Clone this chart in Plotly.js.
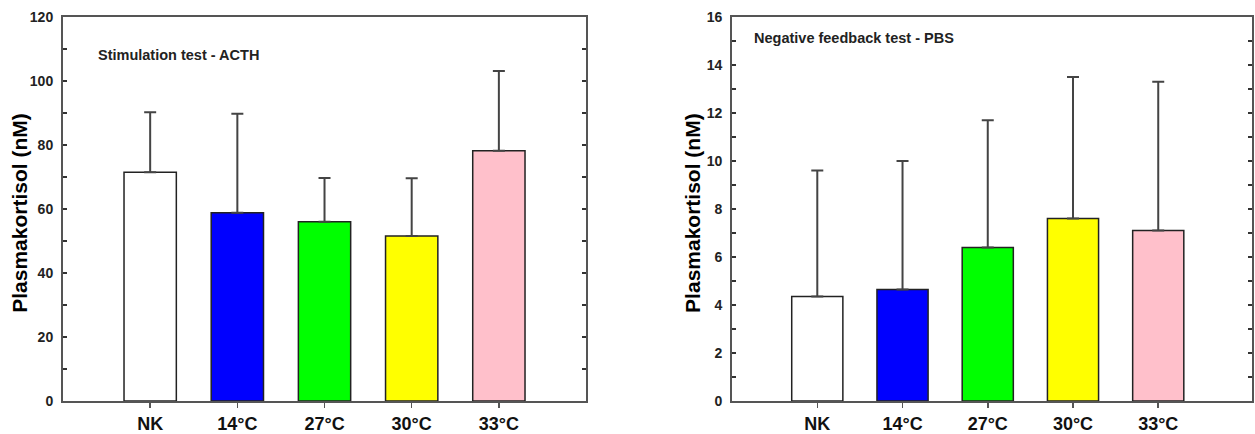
<!DOCTYPE html>
<html>
<head>
<meta charset="utf-8">
<script src="https://cdn.plot.ly/plotly-3.0.1.min.js"></script>
<style>html,body{margin:0;padding:0;background:#fff;}#chart{width:1255px;height:434px;}</style>
</head>
<body>
<div id="chart"></div>
<script>
// Data
const categories = ["NK", "14°C", "27°C", "30°C", "33°C"];
const barColors = ["#ffffff", "#0000ff", "#00ff00", "#ffff00", "#ffc0cb"];
const acthMean = [71.5, 58.8, 56.0, 51.6, 78.2];
const acthErrTop = [90.2, 89.8, 69.7, 69.6, 103.1];
const pbsMean = [4.35, 4.65, 6.4, 7.6, 7.1];
const pbsErrTop = [9.6, 10.0, 11.7, 13.5, 13.3];
const leftTitle = "Stimulation test - ACTH";
const rightTitle = "Negative feedback test - PBS";
const yTitle = "Plasmakortisol (nM)";

const xIdx = categories.map((c, i) => i);
const errPlus = (top, mean) => top.map((t, i) => t - mean[i]);
const zeros = categories.map(() => 0);

function barTrace(mean, top, xa, ya) {
  return {
    type: "bar", x: xIdx, y: mean, xaxis: xa, yaxis: ya, width: 0.6,
    marker: { color: barColors, line: { color: "#222", width: 1.5 } },
    error_y: { type: "data", symmetric: false, array: errPlus(top, mean), arrayminus: zeros,
               color: "#444", thickness: 2, width: 6 },
    showlegend: false, hoverinfo: "skip"
  };
}

const FAM = "Liberation Sans, Arial, sans-serif";
const tickFont = { family: FAM, size: 14, color: "#222", weight: "bold" };
const catFont = { family: FAM, size: 18, color: "#111", weight: "bold" };
const titleFont = { family: FAM, size: 21, color: "#000", weight: "bold" };
const panelFont = { family: FAM, size: 14.5, color: "#222", weight: "bold" };

function xAxis(domain, range) {
  return {
    domain: domain, range: range, tickmode: "array", tickvals: xIdx, ticktext: categories,
    showline: true, linecolor: "#555", linewidth: 2, mirror: true,
    ticks: "outside", ticklen: 5, tickwidth: 1.5, tickcolor: "#555",
    tickfont: catFont, ticklabelstandoff: 0, showgrid: false, zeroline: false, fixedrange: true
  };
}
function yAxis(range, dtick, minor) {
  return {
    range: range, dtick: dtick, tick0: 0,
    showline: true, linecolor: "#555", linewidth: 2, mirror: "ticks",
    ticks: "inside", ticklen: 4, tickwidth: 1.5, tickcolor: "#333",
    minor: { dtick: minor, ticks: "inside", ticklen: 4, tickwidth: 1.5, tickcolor: "#333", showgrid: false },
    tickfont: tickFont, ticklabelstandoff: 5, showgrid: false, zeroline: false, fixedrange: true
  };
}

const data = [
  barTrace(acthMean, acthErrTop, "x", "y"),
  barTrace(pbsMean, pbsErrTop, "x2", "y2")
];

const layout = {
  width: 1255, height: 434,
  margin: { l: 63, r: 3, t: 17, b: 33 },
  paper_bgcolor: "#fff", plot_bgcolor: "#fff",
  xaxis: Object.assign(xAxis([0, 0.4399], [-1, 5]), { anchor: "y" }),
  yaxis: Object.assign(yAxis([0, 120], 20, 10), { anchor: "x" }),
  xaxis2: Object.assign(xAxis([0.5627, 1], [-1, 5.1]), { anchor: "y2" }),
  yaxis2: Object.assign(yAxis([0, 16], 2, 1), { anchor: "x2" }),
  annotations: [
    { xref: "paper", yref: "paper", x: -0.0362, y: 0.49, xanchor: "center", yanchor: "middle",
      textangle: -90, text: yTitle, showarrow: false, font: titleFont },
    { xref: "paper", yref: "paper", x: 0.5299, y: 0.49, xanchor: "center", yanchor: "middle",
      textangle: -90, text: yTitle, showarrow: false, font: titleFont },
    { xref: "x domain", yref: "y domain", x: 0.064, y: 0.9, xanchor: "left", yanchor: "middle",
      text: leftTitle, showarrow: false, font: panelFont },
    { xref: "x2 domain", yref: "y2 domain", x: 0.039, y: 0.946, xanchor: "left", yanchor: "middle",
      text: rightTitle, showarrow: false, font: panelFont }
  ]
};

Plotly.newPlot("chart", data, layout, { displayModeBar: false, staticPlot: true });
</script>
</body>
</html>
